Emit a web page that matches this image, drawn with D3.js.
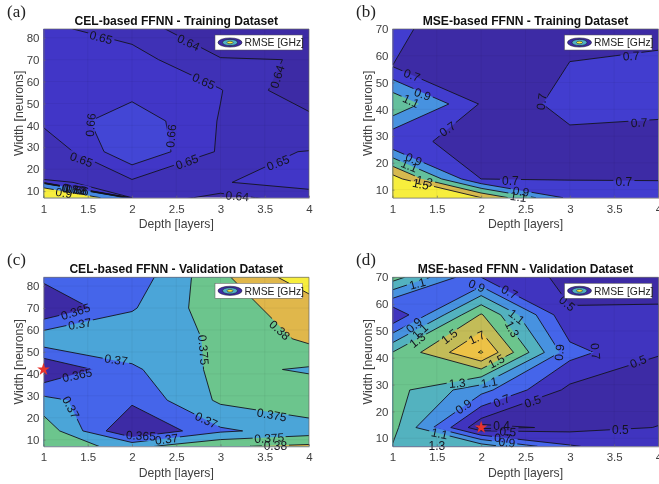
<!DOCTYPE html>
<html>
<head>
<meta charset="utf-8">
<script src="https://cdn.jsdelivr.net/npm/d3@7"></script>
<style>
body { margin: 0; background: #fff; }
svg { display: block; font-family: "Liberation Sans", sans-serif; filter: blur(0.35px); }
.tick text { fill: #404040; font-size: 11.5px; font-family: "Liberation Sans", sans-serif; }
.tick line, .domain { stroke: #6a6a6a; stroke-width: 0.7px; }
</style>
</head>
<body>
<svg id="svg" width="659" height="484"></svg>
<script>
// grid of the sweep: rows are widths from the bottom up, columns are depths
var depths = [1, 2, 3, 4];
var widthsCel = [7, 14, 28, 42, 56, 70, 84];
var widthsMse = [7, 14, 28, 42, 56, 70];
var depthTicks = [1, 1.5, 2, 2.5, 3, 3.5, 4];
var widthTicksCel = [10, 20, 30, 40, 50, 60, 70, 80];
var widthTicksMse = [10, 20, 30, 40, 50, 60, 70];

var rmseA = [
	1.35, 0.649, 0.6361, 0.646,
	0.651, 0.648, 0.6495, 0.6533,
	0.6405, 0.669, 0.6486, 0.6502,
	0.6526, 0.6666, 0.6493, 0.644,
	0.655, 0.6561, 0.6505, 0.6311,
	0.655, 0.654, 0.6407, 0.6397,
	0.652, 0.646, 0.63, 0.632
];
var rmseB = [
	1.9, 1.5, 0.85, 0.8,
	1.6, 0.699, 0.69, 0.69,
	0.7175, 0.679, 0.6937, 0.69,
	1.28, 0.682, 0.708, 0.707,
	0.6995, 0.62, 0.703, 0.71,
	0.72, 0.637, 0.68, 0.687
];
var rmseC = [
	0.3775, 0.3735, 0.3795, 0.381,
	0.3785, 0.3594, 0.3692, 0.3724,
	0.3715, 0.3661, 0.3759, 0.3786,
	0.36, 0.3691, 0.3764, 0.3744,
	0.3737, 0.3739, 0.3753, 0.3811,
	0.36, 0.3695, 0.3781, 0.3822,
	0.3662, 0.367, 0.3789, 0.3883
];
var rmseD = [
	1.29, 1.21, 0.72, 0.55,
	1.37, 0.35, 0.433, 0.505,
	1.38, 0.97, 0.45, 0.41,
	1.305, 1.92, 0.77, 0.51,
	0.513, 1.52, 0.52, 0.52,
	1.394, 0.7, 0.44, 0.45
];

var levelsA = [0.64, 0.65, 0.66, 0.67, 0.68, 0.69, 0.7, 0.9];
var levelsB = [0.7, 0.9, 1.1, 1.3, 1.5];
var levelsC = [0.365, 0.37, 0.375, 0.38, 0.385];
var levelsD = [0.4, 0.5, 0.7, 0.9, 1.1, 1.3, 1.5, 1.7, 1.9];

// text, depth, width, rotation
var labelsA = [
	["0.65", 1.65, 80.2, 15], ["0.64", 2.64, 77.9, 25], ["0.64", 3.64, 62.2, -72],
	["0.65", 2.81, 60.3, 25], ["0.66", 1.53, 40.2, -85], ["0.66", 2.44, 35.2, -85],
	["0.65", 1.43, 24.5, 20], ["0.65", 2.62, 23.4, -20], ["0.65", 3.65, 23, -22],
	["0.64", 3.19, 7.8, 5], ["0.9", 1.23, 9.3, 8], ["0.7", 1.3, 11, 8],
	["0.69", 1.34, 11, 8], ["0.68", 1.36, 10.8, 8], ["0.66", 1.38, 10.6, 8]
];
var labelsB = [
	["0.7", 1.22, 52.8, 20], ["0.9", 1.34, 45.7, 20], ["1.1", 1.21, 43.2, 25],
	["0.7", 1.62, 32.7, -35], ["0.7", 2.68, 42.9, -82], ["0.7", 3.69, 60, -3],
	["0.7", 3.78, 35.1, -3], ["0.7", 2.33, 13.2, 0], ["0.7", 3.61, 13, 0],
	["0.9", 1.24, 21.4, 22], ["1.1", 1.19, 19, 22], ["1.3", 1.36, 13.2, 12],
	["1.5", 1.32, 12.1, 12], ["0.9", 2.45, 9.4, 8], ["1.1", 2.42, 7.4, 8]
];
var labelsC = [
	["0.365", 1.36, 68.4, -18], ["0.37", 1.41, 62.8, -10], ["0.37", 1.82, 46.5, 8],
	["0.365", 1.38, 39.5, -12], ["0.375", 2.81, 50.9, 85], ["0.38", 3.67, 60, 42],
	["0.37", 1.31, 24.8, 62], ["0.37", 2.84, 19, 25], ["0.375", 3.58, 21.4, 10],
	["0.365", 2.1, 11.9, 3], ["0.37", 2.39, 10.3, -7], ["0.375", 3.55, 10.8, -3],
	["0.38", 3.62, 7.3, 0]
];
var labelsD = [
	["1.1", 1.28, 67.7, -15], ["0.9", 1.95, 66.9, 22], ["0.7", 2.32, 64.6, 28],
	["0.5", 2.97, 60.3, 40], ["1.1", 2.4, 55.4, 38], ["1.3", 2.35, 50.7, 62],
	["0.9", 1.24, 52.2, -42], ["1.1", 1.31, 49.9, -42], ["1.3", 1.28, 46.6, -38],
	["1.5", 1.64, 48, -38], ["1.7", 1.95, 47.6, -25], ["0.9", 2.88, 42, -85],
	["0.7", 3.29, 42.4, 85], ["1.5", 2.17, 38.7, -28], ["0.5", 3.77, 38.7, -22],
	["1.3", 1.73, 30.6, -5], ["1.1", 2.09, 30.9, -10], ["0.7", 2.23, 24, -22],
	["0.9", 1.8, 21.9, -35], ["0.5", 2.58, 23.8, -18], ["0.4", 2.23, 14.7, 0],
	["0.5", 2.3, 12.5, 3], ["0.7", 2.24, 10.1, 3], ["0.9", 2.29, 8.5, 5],
	["1.1", 1.53, 11.8, 12], ["0.5", 3.57, 13.1, 0], ["1.3", 1.5, 7.2, 0]
];

// best model of each validation sweep
var bestC = [1, 42];
var bestD = [2, 14];

// parula as it comes out in the printed figure
var parulaStops = ["#3d2ba5", "#4238cc", "#4565ea", "#4588e4", "#4ba5d8", "#57b9b2", "#6cc58d", "#b4bf5f", "#e0b74b", "#f4c743", "#f7ee3d"];

var svg = d3.select("#svg");

function drawPanel(id, left, top, right, bottom, name, letter, widths, widthTicks, rmse, levels, clim, labels, best) {
	var g = svg.append("g");

	var x = d3.scaleLinear().domain([1, 4]).range([left, right]);
	var y = d3.scaleLinear().domain([7, widths[widths.length - 1]]).range([bottom, top]);

	// d3.contours puts grid values at index + 0.5
	var xIndex = d3.scaleLinear().domain(depths.map(function (d, i) { return i + 0.5; })).range(depths);
	var yIndex = d3.scaleLinear().domain(widths.map(function (d, i) { return i + 0.5; })).range(widths);
	var path = d3.geoPath(d3.geoTransform({
		point: function (px, py) {
			this.stream.point(x(xIndex(px)), y(yIndex(py)));
		}
	}));

	var t = d3.scaleLinear().domain(clim).range([0, 1]).clamp(true);
	var parula = d3.scaleLinear().domain(parulaStops.map(function (d, i) { return i / 10; })).range(parulaStops);

	var contours = d3.contours().size([depths.length, widths.length]);
	var shapes = levels.map(function (l) { return contours.contour(rmse, l); });

	g.append("clipPath").attr("id", "clip" + id).append("rect")
		.attr("x", left).attr("y", top).attr("width", right - left).attr("height", bottom - top);

	// lines are cut where a label sits
	var mask = g.append("mask").attr("id", "mask" + id).attr("maskUnits", "userSpaceOnUse")
		.attr("x", left).attr("y", top).attr("width", right - left).attr("height", bottom - top);
	mask.append("rect").attr("x", left).attr("y", top).attr("width", right - left).attr("height", bottom - top).attr("fill", "white");
	labels.forEach(function (l) {
		var w = l[0].length * 6 + 3;
		mask.append("rect").attr("x", -w / 2).attr("y", -5).attr("width", w).attr("height", 10).attr("fill", "black")
			.attr("transform", "translate(" + x(l[1]) + "," + y(l[2]) + ") rotate(" + l[3] + ")");
	});

	var plot = g.append("g").attr("clip-path", "url(#clip" + id + ")");
	plot.append("rect").attr("x", left).attr("y", top).attr("width", right - left).attr("height", bottom - top)
		.style("fill", parula(0));
	plot.selectAll("path.band").data(shapes).enter().append("path").attr("class", "band")
		.attr("d", path).attr("fill-rule", "evenodd")
		.style("fill", function (d) { return parula(t(d.value)); });

	// faint grid over the fills
	plot.selectAll("line.gx").data(depthTicks).enter().append("line").attr("class", "gx")
		.attr("x1", x).attr("x2", x).attr("y1", top).attr("y2", bottom)
		.style("stroke", "#000").style("stroke-opacity", 0.07).style("stroke-width", 0.7);
	plot.selectAll("line.gy").data(widthTicks).enter().append("line").attr("class", "gy")
		.attr("x1", left).attr("x2", right).attr("y1", y).attr("y2", y)
		.style("stroke", "#000").style("stroke-opacity", 0.07).style("stroke-width", 0.7);

	plot.append("g").attr("mask", "url(#mask" + id + ")")
		.selectAll("path").data(shapes).enter().append("path")
		.attr("d", path).style("fill", "none").style("stroke", "#14141e").style("stroke-width", 0.9);

	g.selectAll("text.clabel").data(labels).enter().append("text").attr("class", "clabel")
		.attr("text-anchor", "middle").attr("dy", "0.36em")
		.attr("transform", function (d) { return "translate(" + x(d[1]) + "," + y(d[2]) + ") rotate(" + d[3] + ")"; })
		.style("font-size", "12px").style("fill", "#14141e")
		.text(function (d) { return d[0]; });

	// box
	g.append("path").attr("d", "M" + left + "," + top + "H" + right + "V" + bottom)
		.style("fill", "none").style("stroke", "#6a6a6a").style("stroke-width", 0.7);
	g.append("g").attr("transform", "translate(0," + bottom + ")")
		.call(d3.axisBottom(x).tickValues(depthTicks).tickFormat(d3.format("~g")).tickSizeInner(-2).tickSizeOuter(0).tickPadding(7));
	g.append("g").attr("transform", "translate(" + left + ",0)")
		.call(d3.axisLeft(y).tickValues(widthTicks).tickSizeInner(-2).tickSizeOuter(0).tickPadding(4));

	g.append("text").attr("x", (left + right) / 2).attr("y", top - 4.5).attr("text-anchor", "middle")
		.style("font-size", "12.1px").style("font-weight", "bold").style("fill", "#111").text(name);
	g.append("text").attr("x", (left + right) / 2).attr("y", bottom + 30.5).attr("text-anchor", "middle")
		.style("font-size", "12.2px").style("fill", "#404040").text("Depth [layers]");
	g.append("text").attr("transform", "translate(" + (left - 20.5) + "," + (top + bottom) / 2 + ") rotate(-90)")
		.attr("text-anchor", "middle").style("font-size", "12.2px").style("fill", "#404040").text("Width [neurons]");
	g.append("text").attr("x", left - 36.5).attr("y", top - 12).style("font-family", "'Liberation Serif', serif")
		.style("font-size", "17px").style("fill", "#222").text(letter);

	// legend
	var lx = right - 94, ly = top + 6;
	g.append("rect").attr("x", lx).attr("y", ly).attr("width", 87.5).attr("height", 15)
		.style("fill", "#fff").style("stroke", "#555").style("stroke-width", 0.5);
	[[12, 4.6, 0], [7.5, 3.1, 0.45], [3, 1.3, 1]].forEach(function (e) {
		g.append("ellipse").attr("cx", lx + 15).attr("cy", ly + 7.5).attr("rx", e[0]).attr("ry", e[1])
			.style("fill", parula(e[2])).style("stroke", "#14141e").style("stroke-width", 0.5);
	});
	g.append("text").attr("x", lx + 29.5).attr("y", ly + 11.2).style("font-size", "10.4px").style("fill", "#222").text("RMSE [GHz]");

	if (best) {
		g.append("path").attr("d", d3.symbol().type(d3.symbolStar).size(50)())
			.attr("transform", "translate(" + x(best[0]) + "," + y(best[1]) + ")").style("fill", "#e8342c");
	}
}

drawPanel("a", 43.5, 29, 309, 197.7, "CEL-based FFNN - Training Dataset", "(a)", widthsCel, widthTicksCel, rmseA, levelsA, [0.63, 0.86], labelsA, null);
drawPanel("b", 392.5, 29, 658.5, 197.7, "MSE-based FFNN - Training Dataset", "(b)", widthsMse, widthTicksMse, rmseB, levelsB, [0.6, 1.5], labelsB, null);
drawPanel("c", 43.5, 277.3, 309, 446.3, "CEL-based FFNN - Validation Dataset", "(c)", widthsCel, widthTicksCel, rmseC, levelsC, [0.36, 0.385], labelsC, bestC);
drawPanel("d", 392.5, 277.3, 658.5, 446.3, "MSE-based FFNN - Validation Dataset", "(d)", widthsMse, widthTicksMse, rmseD, levelsD, [0.4, 1.9], labelsD, bestD);
</script>
</body>
</html>
